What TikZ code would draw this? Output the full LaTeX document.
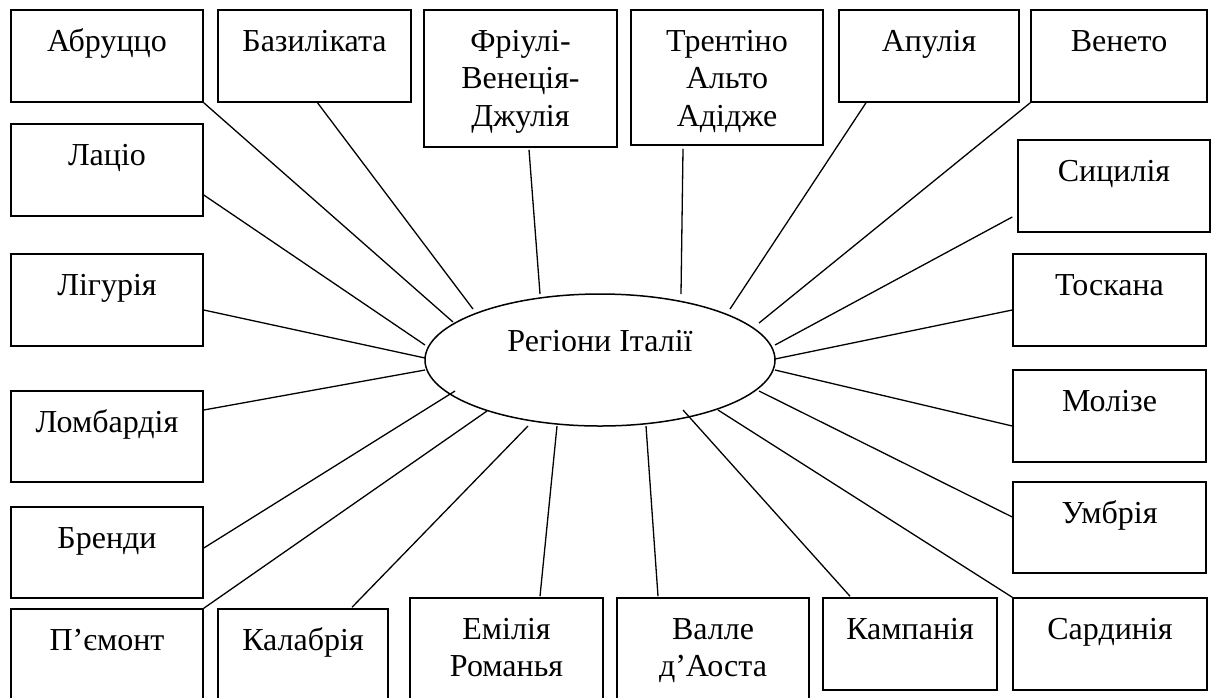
\documentclass[tikz,border=0pt]{standalone}
\usepackage{fontspec}
\setmainfont{Liberation Serif}
\usepackage{tikz}
\usetikzlibrary{calc, positioning, shapes}
\tikzset{
region/.style={
  draw, rectangle,
  line width=0.75pt,
  minimum width=96pt,
  minimum height=46pt,
  label={[regtext]north:\strut#1}
},
regtext/.style={
  anchor=north, yshift=-7.6pt, inner sep=0pt,
  align=center,
  font=\fontsize{16}{18.75}\selectfont
},
link/.style={line width=0.65pt},
}

\begin{document}
\begin{tikzpicture}[x=0.5pt, y=-0.5pt]
    \useasboundingbox (0,0) rectangle (1213,697);
    \clip (0,0) rectangle (1213,697);
    \node[ellipse, draw, line width=0.75pt, minimum width=175pt, minimum height=66pt, inner sep=0pt,
          label={[yshift=9.5pt, font=\fontsize{16}{18.75}\selectfont]center:Регіони Італії}] (reg) at (600,360) {};

    \node[region=Абруццо] (abr) at (107,56) {};
    \node[region=Базиліката, minimum width=96.5pt] (baz) at (314.5,56) {};
    \node[region={Фріулі-\\Венеція-\\Джулія}, minimum width=96.5pt, minimum height=68.5pt] (fri) at (520.5,78.5) {};
    \node[region={Трентіно\\Альто\\Адідже}, minimum height=67.5pt] (tre) at (727,77.5) {};
    \node[region=Апулія, minimum width=90pt] (apu) at (929,56) {};
    \node[region=Венето, minimum width=88pt] (ven) at (1119,56) {};

    \node[region=Лаціо] (laz) at (107,170) {};
    \node[region=Лігурія] (lig) at (107,300) {};
    \node[region=Ломбардія, minimum height=45.5pt] (lom) at (107,436.5) {};
    \node[region=Бренди, minimum height=45.5pt] (bre) at (107,552.5) {};
    \node[region=П’ємонт] (pie) at (107,655) {};

    \node[region=Калабрія, minimum width=85pt] (kal) at (303,655) {};
    \node[region={Емілія\\Романья}, minimum width=96.5pt, minimum height=60pt] (emi) at (506.5,658) {};
    \node[region={Валле\\д’Аоста}, minimum height=60pt] (val) at (713,658) {};
    \node[region=Кампанія, minimum width=87pt] (kam) at (910,644) {};
    \node[region=Сардинія, minimum width=97pt] (sar) at (1110,644) {};

    \node[region=Сицилія] (sic) at (1114,186) {};
    \node[region=Тоскана, minimum width=96.5pt] (tos) at (1109.5,300) {};
    \node[region=Молізе, minimum width=96.5pt] (mol) at (1109.5,416) {};
    \node[region=Умбрія, minimum width=96.5pt, minimum height=45.5pt] (umb) at (1109.5,527.5) {};

    \draw[link] (abr.south east) -- ($(reg)+(-147,-38)$);
    \draw[link] ($(baz.south)+(3,0)$) -- ($(reg)+(-127,-51)$);
    \draw[link] ($(fri.south)+(8.5,2)$) -- ($(reg)+(-60,-66)$);
    \draw[link] ($(tre.south)+(-44,3)$) -- ($(reg)+(81,-66)$);
    \draw[link] ($(apu.south)+(-63,0)$) -- ($(reg)+(130,-51)$);
    \draw[link] (ven.south west) -- ($(reg)+(159,-37)$);
    \draw[link] ($(laz.east)+(0,25)$) -- ($(reg)+(-175,-15)$);
    \draw[link] ($(lig.east)+(0,10)$) -- ($(reg)+(-175,-2)$);
    \draw[link] ($(lom.east)+(0,-26.5)$) -- ($(reg)+(-175,10)$);
    \draw[link] ($(bre.east)+(0,-4.5)$) -- ($(reg)+(-145,31)$);
    \draw[link] (pie.north east) -- ($(reg)+(-113,51)$);
    \draw[link] ($(kal.north)+(49,-1)$) -- ($(reg)+(-72,66)$);
    \draw[link] ($(emi.north)+(33.5,-1)$) -- ($(reg)+(-43,66)$);
    \draw[link] ($(val.north)+(-55,-1)$) -- ($(reg)+(46,66)$);
    \draw[link] ($(kam.north)+(-60,-1)$) -- ($(reg)+(83,50)$);
    \draw[link] (sar.north west) -- ($(reg)+(118,50)$);
    \draw[link] ($(sic.west)+(-5,31)$) -- ($(reg)+(175,-15)$);
    \draw[link] ($(tos.west)+(0,10)$) -- ($(reg)+(175,-1)$);
    \draw[link] ($(mol.west)+(0,10)$) -- ($(reg)+(175,10)$);
    \draw[link] ($(umb.west)+(0,-10.5)$) -- ($(reg)+(159,31)$);
\end{tikzpicture}
\end{document}
